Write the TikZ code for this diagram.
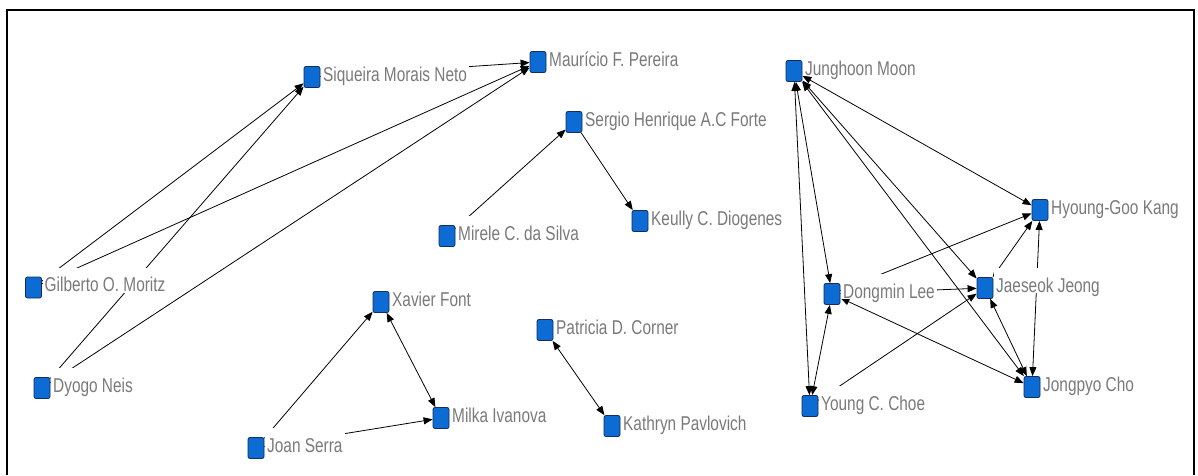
\documentclass[tikz,border=0pt]{standalone}
\usepackage{fontspec}
\newfontfamily\lblfont[FakeStretch=0.77]{Liberation Sans}
\usetikzlibrary{arrows.meta}
\definecolor{nodeblue}{RGB}{12,108,212}
\definecolor{nodeedge}{RGB}{20,45,90}
\definecolor{labelgray}{RGB}{122,122,122}
\pgfdeclarelayer{ties}
\pgfsetlayers{ties,main}

\tikzset{
  actor/.style={draw=nodeedge, fill=nodeblue, line width=0.8pt, rounded corners=2pt,
    minimum width=16pt, minimum height=21pt, inner sep=0pt},
  actorname/.style={anchor=base west, fill=white, text=labelgray,
    font=\lblfont\fontsize{20}{20}\selectfont, inner xsep=2pt, inner ysep=0pt,
    text height=24pt, text depth=1pt},
  tip/.tip={Triangle[length=9pt,width=7pt]},
  tie/.style={line width=0.8pt, -tip},
  mutual/.style={line width=0.8pt, tip-tip},
}
% square marker with its name printed to the right
\newcommand\person[4]{%
  \node[actor] (#1) at (#2,#3) {};
  \node[actorname] (#1-l) at ([xshift=9pt,yshift=-4pt]#1.center) {#4};}

\begin{document}
\begin{tikzpicture}[x=1pt,y=-1pt]
\useasboundingbox (0,0) rectangle (1198,475);

% frame
\draw[line width=1.6pt] (7,475) -- (7,10) -- (1194,10) -- (1194,475);

% actors
\person{siq}{312}{77}{Siqueira Morais Neto}
\person{mau}{538}{62}{Maurício F. Pereira}
\person{ser}{574}{122}{Sergio Henrique A.C Forte}
\person{mir}{447}{236}{Mirele C. da Silva}
\person{keu}{640}{221}{Keully C. Diogenes}
\person{gil}{33.5}{287.5}{Gilberto O. Moritz}
\person{dyo}{42}{388}{Dyogo Neis}
\person{xav}{381}{302}{Xavier Font}
\person{mil}{441}{418}{Milka Ivanova}
\person{joa}{256}{448}{Joan Serra}
\person{pat}{545}{330}{Patricia D. Corner}
\person{kat}{612}{426}{Kathryn Pavlovich}
\person{jun}{794}{71}{Junghoon Moon}
\person{hyo}{1040}{210}{Hyoung-Goo Kang}
\person{don}{832}{294}{Dongmin Lee}
\person{jae}{985}{288}{Jaeseok Jeong}
\person{you}{810}{406}{Young C. Choe}
\person{jon}{1032}{387}{Jongpyo Cho}

% ties, drawn underneath the names
\begin{pgfonlayer}{ties}
\draw[tie] (gil) -- (siq);
\draw[tie] (dyo) -- (siq);
\draw[tie] (gil) -- (mau);
\draw[tie] (dyo) -- (mau);
\draw[tie] (siq) -- (mau);
\draw[tie] (mir) -- (ser);
\draw[tie] (ser) -- (keu);
\draw[tie] (joa) -- (xav);
\draw[mutual] (xav) -- (mil);
\draw[tie] (joa) -- (mil);
\draw[mutual] (pat) -- (kat);
\draw[mutual] (jun) -- (you);
\draw[mutual] (jun) -- (don);
\draw[mutual] (don) -- (you);
\draw[mutual] (jun) -- (hyo);
\draw[mutual] (jun) -- (jae);
\draw[mutual] (jun) -- (jon);
\draw[tie] (don) -- (hyo);
\draw[tie] (don) -- (jae);
\draw[mutual] (don) -- (jon);
\draw[tie] (you) -- (jae);
\draw[mutual] (jae) -- (hyo);
\draw[mutual] (jae) -- (jon);
\draw[mutual] (hyo) -- (jon);
\end{pgfonlayer}
\end{tikzpicture}
\end{document}
